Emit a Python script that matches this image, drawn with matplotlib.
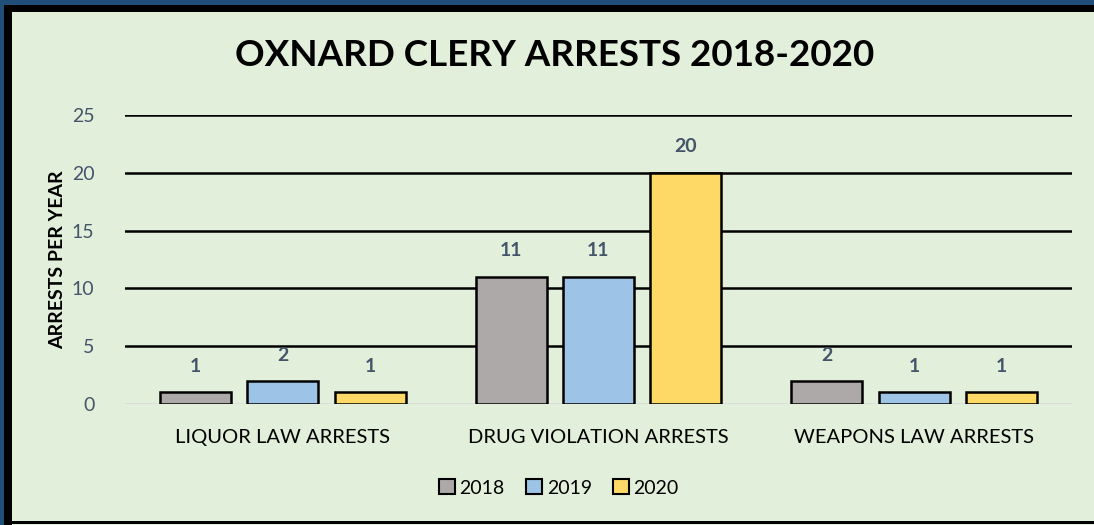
import matplotlib
matplotlib.use("Agg")
import matplotlib.pyplot as plt
import numpy as np
from matplotlib.patches import Rectangle

categories = ["LIQUOR LAW ARRESTS", "DRUG VIOLATION ARRESTS", "WEAPONS LAW ARRESTS"]
years = ["2018", "2019", "2020"]
values_2018 = [1, 11, 2]
values_2019 = [2, 11, 1]
values_2020 = [1, 20, 1]
series = [values_2018, values_2019, values_2020]
colors = ["#ADA9A8", "#9DC3E6", "#FFD966"]
yticks = [0, 5, 10, 15, 20, 25]

plt.rcParams['font.family'] = ['Lato', 'DejaVu Sans']

W, H = 1094, 525
fig = plt.figure(figsize=(W / 100, H / 100), dpi=100)
fig.patch.set_facecolor("#E2EFDA")

# borders (figure pixel coordinates -> fraction)
def px_rect(x0, y0, x1, y1, color):
    fig.patches.append(Rectangle((x0 / W, 1 - y1 / H), (x1 - x0) / W, (y1 - y0) / H,
                                 transform=fig.transFigure, color=color, zorder=0, lw=0))

px_rect(0, 0, W, 5, "#1F4E79")
px_rect(0, 0, 4, H, "#1F4E79")
px_rect(4, 5, W, 12, "#000000")
px_rect(4, 5, 12, H, "#000000")
px_rect(12, 521, W, 524, "#000000")

ax = fig.add_axes([125 / W, 1 - 404 / H, (1072 - 125) / W, (404 - 115) / H])
ax.set_facecolor("#E2EFDA")

x = np.arange(len(categories))
step = 0.277
width = 0.225
for i, (vals, c, yr) in enumerate(zip(series, colors, years)):
    pos = x + (i - 1) * step
    ax.bar(pos, vals, width=width, color=c, edgecolor="black", linewidth=1.8,
           label=yr, zorder=3)
    for p, v in zip(pos, vals):
        ax.annotate(str(v), (p, v), xytext=(0, 12.5), textcoords="offset points",
                    ha="center", va="bottom", fontsize=14, fontweight="bold",
                    color="#44546A", zorder=4)

ax.set_xlim(-0.5, 2.5)
ax.set_ylim(0, 25)
ax.set_yticks(yticks)
ax.set_yticklabels([str(t) for t in yticks], fontsize=14, color="#44546A")
ax.set_xticks(x)
ax.set_xticklabels(categories, fontsize=14.5, color="black")
ax.tick_params(axis="both", length=0)
ax.tick_params(axis="y", pad=22)
ax.tick_params(axis="x", pad=18)
for t in yticks[1:]:
    ax.axhline(t, color="black", lw=1.8, zorder=1)
ax.axhline(0, color="#D9D9D9", lw=1.8, zorder=2)
for s in ax.spines.values():
    s.set_visible(False)

ax.set_ylabel("ARRESTS PER YEAR", fontsize=14, fontweight="bold", color="black", labelpad=4)

fig.text(555 / W, 1 - 56 / H, "OXNARD CLERY ARRESTS 2018-2020", ha="center", va="center",
         fontsize=26.5, fontweight="bold", color="black")

leg = fig.legend(loc="center", bbox_to_anchor=(559 / W, 1 - 488 / H), ncol=3, frameon=False,
                 fontsize=14, handlelength=0.8, handleheight=0.8, handletextpad=0.25,
                 columnspacing=1.1)
for h in leg.legend_handles:
    h.set_linewidth(1.5)

fig.savefig("out.png", dpi=100, facecolor=fig.get_facecolor())
